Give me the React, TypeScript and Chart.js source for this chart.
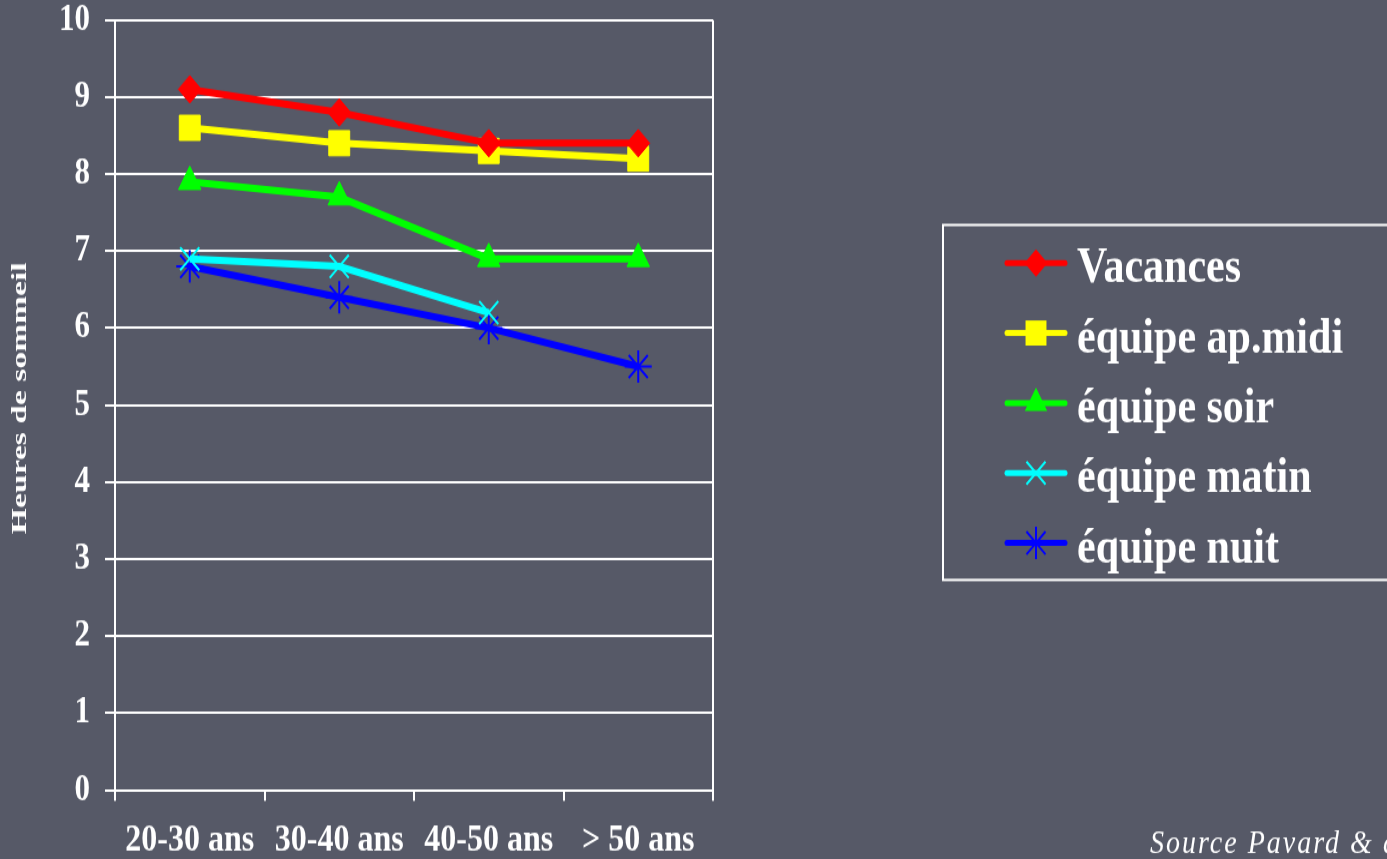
import React, { useEffect, useRef } from 'react';
import { Chart, registerables } from 'chart.js';

Chart.register(...registerables);

const categories = ['20-30 ans', '30-40 ans', '40-50 ans', '> 50 ans'];
const seriesNames = ['Vacances', 'équipe ap.midi', 'équipe soir', 'équipe matin', 'équipe nuit'];
const vacances = [9.1, 8.8, 8.4, 8.4];
const apMidi = [8.6, 8.4, 8.3, 8.2];
const soir = [7.9, 7.7, 6.9, 6.9];
const matin = [6.9, 6.8, 6.2, null];
const nuit = [6.8, 6.4, 6.0, 5.5];
const yTicks = [0, 1, 2, 3, 4, 5, 6, 7, 8, 9, 10];
const yTitle = 'Heures de sommeil';
const sourceText = 'Source Pavard & al.';

const colors = ['#ff0000', '#ffff00', '#00ff00', '#00ffff', '#0000ff'];
const styles = ['rectRot', 'rect', 'triangle', 'crossRot', 'star'];
const radii = [11.5, 14.8, 13, 13.5, 13.5];
const markerBorder = [1, 1, 1, 2, 2];

const BG = '#565967';
const FONT = "'Liberation Serif', 'Times New Roman', serif";
const W = 1387;
const H = 716;
const SY = 859 / H;

function drawMarker(ctx: CanvasRenderingContext2D, style: string, x: number, y: number, r: number, color: string, bw: number) {
  ctx.save();
  ctx.fillStyle = color;
  ctx.strokeStyle = color;
  ctx.lineWidth = bw;
  ctx.beginPath();
  if (style === 'rectRot') {
    ctx.moveTo(x - r, y);
    ctx.lineTo(x, y - r);
    ctx.lineTo(x + r, y);
    ctx.lineTo(x, y + r);
    ctx.closePath();
    ctx.fill();
  } else if (style === 'rect') {
    const s = Math.SQRT1_2 * r;
    ctx.rect(x - s, y - s, 2 * s, 2 * s);
    ctx.fill();
  } else if (style === 'triangle') {
    let a = 0;
    ctx.moveTo(x + Math.sin(a) * r, y - Math.cos(a) * r);
    a += (2 * Math.PI) / 3;
    ctx.lineTo(x + Math.sin(a) * r, y - Math.cos(a) * r);
    a += (2 * Math.PI) / 3;
    ctx.lineTo(x + Math.sin(a) * r, y - Math.cos(a) * r);
    ctx.closePath();
    ctx.fill();
  } else {
    const o = Math.SQRT1_2 * r;
    ctx.moveTo(x - o, y - o);
    ctx.lineTo(x + o, y + o);
    ctx.moveTo(x - o, y + o);
    ctx.lineTo(x + o, y - o);
    if (style === 'star') {
      ctx.moveTo(x, y - r);
      ctx.lineTo(x, y + r);
      ctx.moveTo(x - r, y);
      ctx.lineTo(x + r, y);
    }
    ctx.stroke();
  }
  ctx.restore();
}

const decorPlugin = {
  id: 'decor',
  afterDraw(chart: any) {
    const ctx: CanvasRenderingContext2D = chart.ctx;
    // Legend box
    const boxTop = 187.5;
    const boxBottom = 483.4;
    ctx.save();
    ctx.strokeStyle = '#ffffff';
    ctx.lineWidth = 2;
    ctx.strokeRect(943, boxTop, W - 943 + 10, boxBottom - boxTop);
    const rowStart = 219.2;
    const rowGap = 58.35;
    chart.data.datasets.forEach((ds: any, i: number) => {
      const cy = rowStart + i * rowGap;
      ctx.save();
      ctx.strokeStyle = ds.borderColor;
      ctx.lineWidth = 5;
      ctx.lineCap = 'round';
      ctx.beginPath();
      ctx.moveTo(1007, cy);
      ctx.lineTo(1065, cy);
      ctx.stroke();
      ctx.restore();
      drawMarker(ctx, ds.pointStyle, 1036, cy, ds.pointRadius, ds.borderColor, ds.pointBorderWidth);
      ctx.fillStyle = '#ffffff';
      ctx.font = `bold 42px ${FONT}`;
      ctx.textAlign = 'left';
      ctx.textBaseline = 'alphabetic';
      ctx.fillText(ds.label, 1077, cy + 16);
    });
    // Y title (wide glyphs, like the original)
    ctx.save();
    ctx.translate(21, 332);
    ctx.rotate(-Math.PI / 2);
    ctx.scale(1.4, 1);
    ctx.fillStyle = '#ffffff';
    ctx.font = `bold 20px ${FONT}`;
    ctx.textAlign = 'center';
    ctx.textBaseline = 'middle';
    ctx.fillText(yTitle, 0, 0);
    ctx.restore();
    // Source
    ctx.save();
    ctx.fillStyle = '#ffffff';
    ctx.font = `italic 28px ${FONT}`;
    (ctx as any).letterSpacing = '2px';
    ctx.textAlign = 'left';
    ctx.textBaseline = 'alphabetic';
    ctx.fillText(sourceText, 1150, 711);
    ctx.restore();
    ctx.restore();
  },
};

export default function App() {
  const ref = useRef<HTMLCanvasElement>(null);
  useEffect(() => {
    const allSeries = [vacances, apMidi, soir, matin, nuit];
    const datasets = allSeries.map((d, i) => ({
      label: seriesNames[i],
      data: d,
      borderColor: colors[i],
      backgroundColor: colors[i],
      borderWidth: 6,
      pointStyle: styles[i],
      pointRadius: radii[i],
      pointHoverRadius: radii[i],
      pointBorderWidth: markerBorder[i],
      pointBorderColor: colors[i],
      pointBackgroundColor: colors[i],
      tension: 0,
      spanGaps: false,
      fill: false,
    }));
    const chart = new Chart(ref.current as HTMLCanvasElement, {
      type: 'line',
      data: { labels: categories, datasets: datasets as any },
      plugins: [decorPlugin],
      options: {
        animation: false,
        responsive: false,
        maintainAspectRatio: false,
        devicePixelRatio: 1,
        events: [],
        layout: { padding: { top: 16.67, left: 0, right: W - 713, bottom: 0 } },
        plugins: {
          legend: { display: false },
          tooltip: { enabled: false },
          title: { display: false },
        },
        scales: {
          x: {
            type: 'category',
            offset: true,
            afterFit: (s: any) => {
              s.height = H - 658.5;
              s.paddingLeft = 0;
              s.paddingRight = 0;
            },
            grid: {
              display: true,
              offset: true,
              drawOnChartArea: true,
              drawTicks: true,
              tickLength: 9,
              lineWidth: 2,
              color: (c: any) => (c.type === 'scale' ? '#ffffff' : 'rgba(0,0,0,0)'),
              tickColor: '#ffffff',
            },
            border: { display: true, color: '#ffffff', width: 2 },
            ticks: {
              color: '#ffffff',
              font: { family: FONT, size: 32, weight: 'bold' },
              padding: 14,
              maxRotation: 0,
              autoSkip: false,
            },
          },
          y: {
            min: 0,
            max: 10,
            afterFit: (s: any) => {
              s.width = 115;
              s.paddingTop = 0;
              s.paddingBottom = 0;
            },
            afterBuildTicks: (s: any) => {
              s.ticks = yTicks.map((v) => ({ value: v }));
            },
            grid: {
              color: '#ffffff',
              lineWidth: 2,
              drawTicks: true,
              tickLength: 10,
              tickColor: '#ffffff',
            },
            border: { display: true, color: '#ffffff', width: 2 },
            ticks: {
              color: '#ffffff',
              font: { family: FONT, size: 31, weight: 'bold' },
              padding: 15,
              stepSize: 1,
            },
          },
        },
      } as any,
    });
    return () => chart.destroy();
  }, []);
  return (
    <div style={{ position: 'fixed', left: 0, top: 0, width: W, height: 859, background: BG, overflow: 'hidden' }}>
      <div style={{ width: W, height: H, transform: `scaleY(${SY})`, transformOrigin: '0 0' }}>
        <canvas ref={ref} width={W} height={H} style={{ display: 'block', width: W, height: H }} />
      </div>
    </div>
  );
}
